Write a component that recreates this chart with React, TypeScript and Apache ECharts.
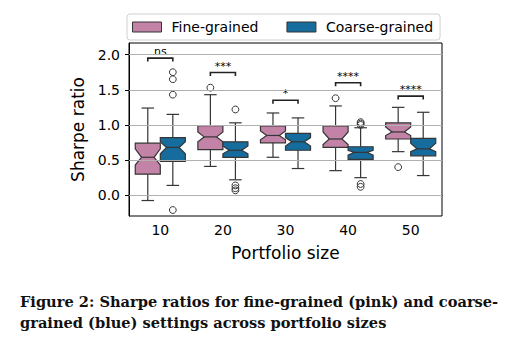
import React, { useEffect, useRef } from "react";
import * as echarts from "echarts";

const categories = ["10", "20", "30", "40", "50"];
const yTicks = [0, 0.5, 1.0, 1.5, 2.0];

// Fine-grained (pink)
const fineWhiskerLow = [-0.075, 0.41, 0.54, 0.35, 0.62];
const fineQ1 = [0.3, 0.65, 0.745, 0.68, 0.8];
const fineNotchLow = [0.43, 0.76, 0.79, 0.72, 0.85];
const fineMedian = [0.54, 0.83, 0.85, 0.8, 0.9];
const fineNotchHigh = [0.66, 0.9, 0.915, 0.9, 0.97];
const fineQ3 = [0.74, 0.99, 0.985, 0.985, 1.03];
const fineWhiskerHigh = [1.24, 1.43, 1.17, 1.27, 1.25];
const fineOutliers = [
  [1, 1.53],
  [3, 1.38],
  [4, 0.4],
];

// Coarse-grained (blue)
const coarseWhiskerLow = [0.14, 0.22, 0.38, 0.25, 0.28];
const coarseQ1 = [0.48, 0.54, 0.64, 0.51, 0.56];
const coarseNotchLow = [0.59, 0.59, 0.7, 0.57, 0.62];
const coarseMedian = [0.68, 0.64, 0.76, 0.61, 0.66];
const coarseNotchHigh = [0.76, 0.7, 0.82, 0.64, 0.74];
const coarseQ3 = [0.82, 0.76, 0.88, 0.69, 0.81];
const coarseWhiskerHigh = [1.15, 1.03, 1.1, 0.96, 1.18];
const coarseOutliers = [
  [0, 1.75],
  [0, 1.65],
  [0, 1.43],
  [0, -0.21],
  [1, 1.22],
  [1, 0.14],
  [1, 0.1],
  [1, 0.07],
  [3, 1.04],
  [3, 1.02],
  [3, 1.0],
  [3, 0.16],
  [3, 0.12],
];

// Significance brackets
const bracketCats = [0, 1, 2, 3, 4];
const bracketLevels = [1.95, 1.745, 1.35, 1.6, 1.41];
const bracketLabels = ["ns", "***", "*", "****", "****"];

const captionLines = [
  "Figure 2: Sharpe ratios for fine-grained (pink) and coarse-",
  "grained (blue) settings across portfolio sizes",
];

const PINK = "#C283A6";
const BLUE = "#166C9C";
const LINE = "#353535";
const FONT = "DejaVu Sans";

function boxData(wl: number[], q1: number[], nl: number[], md: number[], nh: number[], q3: number[], wh: number[]) {
  return categories.map((_, i) => [i, wl[i], q1[i], nl[i], md[i], nh[i], q3[i], wh[i]]);
}

function makeBoxRender(side: number, fill: string) {
  return (params: any, api: any) => {
    const ci = api.value(0);
    const band = api.size([1, 0])[0];
    const base = api.coord([ci, 0]);
    const cx = base[0] + side * band * 0.2;
    const hw = band * 0.2;
    const Y = (k: number) => api.coord([ci, api.value(k)])[1];
    const wl = Y(1), q1 = Y(2), nl = Y(3), md = Y(4), nh = Y(5), q3 = Y(6), wh = Y(7);
    const lw = 1.2;
    const ls = { stroke: LINE, lineWidth: lw };
    return {
      type: "group",
      children: [
        { type: "line", shape: { x1: cx, y1: q3, x2: cx, y2: wh }, style: ls },
        { type: "line", shape: { x1: cx - hw / 2, y1: wh, x2: cx + hw / 2, y2: wh }, style: ls },
        { type: "line", shape: { x1: cx, y1: q1, x2: cx, y2: wl }, style: ls },
        { type: "line", shape: { x1: cx - hw / 2, y1: wl, x2: cx + hw / 2, y2: wl }, style: ls },
        {
          type: "polygon",
          shape: {
            points: [
              [cx - hw, q1],
              [cx - hw, nl],
              [cx - hw / 2, md],
              [cx - hw, nh],
              [cx - hw, q3],
              [cx + hw, q3],
              [cx + hw, nh],
              [cx + hw / 2, md],
              [cx + hw, nl],
              [cx + hw, q1],
            ],
          },
          style: { fill, stroke: LINE, lineWidth: lw },
        },
        { type: "line", shape: { x1: cx - hw / 2, y1: md, x2: cx + hw / 2, y2: md }, style: ls },
      ],
    };
  };
}

function makeOutlierRender(side: number) {
  return (params: any, api: any) => {
    const ci = api.value(0);
    const band = api.size([1, 0])[0];
    const p = api.coord([ci, api.value(1)]);
    return {
      type: "circle",
      shape: { cx: p[0] + side * band * 0.2, cy: p[1], r: 3.4 },
      style: { fill: "transparent", stroke: LINE, lineWidth: 1 },
    };
  };
}

export default function App() {
  const ref = useRef<HTMLDivElement>(null);
  useEffect(() => {
    if (!ref.current) return;
    const chart = echarts.init(ref.current, null, { renderer: "svg" });
    const option: any = {
      animation: false,
      backgroundColor: "#ffffff",
      legend: {
        data: [
          { name: "Fine-grained", itemStyle: { color: PINK, borderColor: LINE, borderWidth: 1 } },
          { name: "Coarse-grained", itemStyle: { color: BLUE, borderColor: LINE, borderWidth: 1 } },
        ],
        left: 127,
        top: 14,
        icon: "rect",
        itemWidth: 29,
        itemHeight: 10,
        itemGap: 28,
        padding: [6, 7, 6, 5],
        borderColor: "#d0d0d0",
        borderWidth: 1,
        borderRadius: 3,
        textStyle: { fontFamily: FONT, fontSize: 14, color: "#000", padding: [0, 0, 0, 5] },
      },
      grid: {
        left: 129,
        top: 43,
        right: 81,
        bottom: 138,
        show: true,
        borderColor: "#000",
        borderWidth: 1,
        backgroundColor: "transparent",
        containLabel: false,
      },
      xAxis: {
        type: "category",
        data: categories,
        boundaryGap: true,
        name: "Portfolio size",
        nameLocation: "middle",
        nameGap: 28,
        nameTextStyle: { fontFamily: FONT, fontSize: 17, color: "#000" },
        axisLine: { lineStyle: { color: "#000", width: 1 } },
        axisTick: { alignWithLabel: true, length: 4, lineStyle: { color: "#000" } },
        axisLabel: { fontFamily: FONT, fontSize: 14, color: "#000", margin: 7 },
        splitLine: { show: false },
      },
      yAxis: {
        type: "value",
        min: -0.295,
        max: 2.165,
        name: "Sharpe ratio",
        nameLocation: "middle",
        nameGap: 37,
        nameTextStyle: { fontFamily: FONT, fontSize: 17, color: "#000" },
        axisLine: { show: true, lineStyle: { color: "#000", width: 1 } },
        axisTick: { show: true, length: 4, lineStyle: { color: "#000" }, customValues: yTicks },
        axisLabel: {
          fontFamily: FONT,
          fontSize: 14,
          color: "#000",
          margin: 9,
          customValues: yTicks,
          formatter: (v: number) => v.toFixed(1),
        },
        splitLine: { show: false },
      },
      series: [
        {
          type: "line",
          name: "grid",
          data: [],
          z: 1,
          silent: true,
          markLine: {
            silent: true,
            symbol: "none",
            label: { show: false },
            lineStyle: { color: "#b0b0b0", width: 1, type: "solid" },
            data: yTicks.map((v) => ({ yAxis: v })),
          },
        },
        {
          type: "custom",
          name: "Fine-grained",
          z: 3,
          itemStyle: { color: PINK, borderColor: LINE, borderWidth: 1 },
          renderItem: makeBoxRender(-1, PINK),
          encode: { x: 0, y: [1, 2, 3, 4, 5, 6, 7] },
          data: boxData(fineWhiskerLow, fineQ1, fineNotchLow, fineMedian, fineNotchHigh, fineQ3, fineWhiskerHigh),
        },
        {
          type: "custom",
          name: "Coarse-grained",
          z: 3,
          itemStyle: { color: BLUE, borderColor: LINE, borderWidth: 1 },
          renderItem: makeBoxRender(1, BLUE),
          encode: { x: 0, y: [1, 2, 3, 4, 5, 6, 7] },
          data: boxData(coarseWhiskerLow, coarseQ1, coarseNotchLow, coarseMedian, coarseNotchHigh, coarseQ3, coarseWhiskerHigh),
        },
        {
          type: "custom",
          name: "fineOut",
          z: 4,
          renderItem: makeOutlierRender(-1),
          encode: { x: 0, y: 1 },
          data: fineOutliers,
        },
        {
          type: "custom",
          name: "coarseOut",
          z: 4,
          renderItem: makeOutlierRender(1),
          encode: { x: 0, y: 1 },
          data: coarseOutliers,
        },
        {
          type: "custom",
          name: "brackets",
          z: 4,
          renderItem: (params: any, api: any) => {
            const ci = api.value(0);
            const band = api.size([1, 0])[0];
            const p = api.coord([ci, api.value(1)]);
            const x1 = p[0] - band * 0.2;
            const x2 = p[0] + band * 0.2;
            const yb = p[1];
            return {
              type: "group",
              children: [
                {
                  type: "polyline",
                  shape: { points: [[x1, yb + 3.5], [x1, yb], [x2, yb], [x2, yb + 3.5]] },
                  style: { stroke: "#222", lineWidth: 1.6, fill: "none" },
                },
                {
                  type: "text",
                  style: {
                    text: bracketLabels[params.dataIndex],
                    x: p[0],
                    y: yb - 1,
                    align: "center",
                    verticalAlign: "bottom",
                    fontFamily: FONT,
                    fontSize: 11,
                    fill: "#000",
                  },
                },
              ],
            };
          },
          encode: { x: 0, y: 1 },
          data: bracketCats.map((c, i) => [c, bracketLevels[i]]),
        },
      ],
      graphic: captionLines.map((line, i) => ({
        type: "text",
        left: 20,
        top: 294 + i * 20.6,
        style: {
          text: line,
          fontFamily: "DejaVu Serif",
          fontWeight: "bold",
          fontSize: 14.6,
          fill: "#111",
        },
      })),
    };
    chart.setOption(option);
    return () => chart.dispose();
  }, []);
  return (
    <div
      ref={ref}
      style={{ position: "fixed", left: 0, top: 0, width: 523, height: 354, background: "#fff" }}
    />
  );
}
